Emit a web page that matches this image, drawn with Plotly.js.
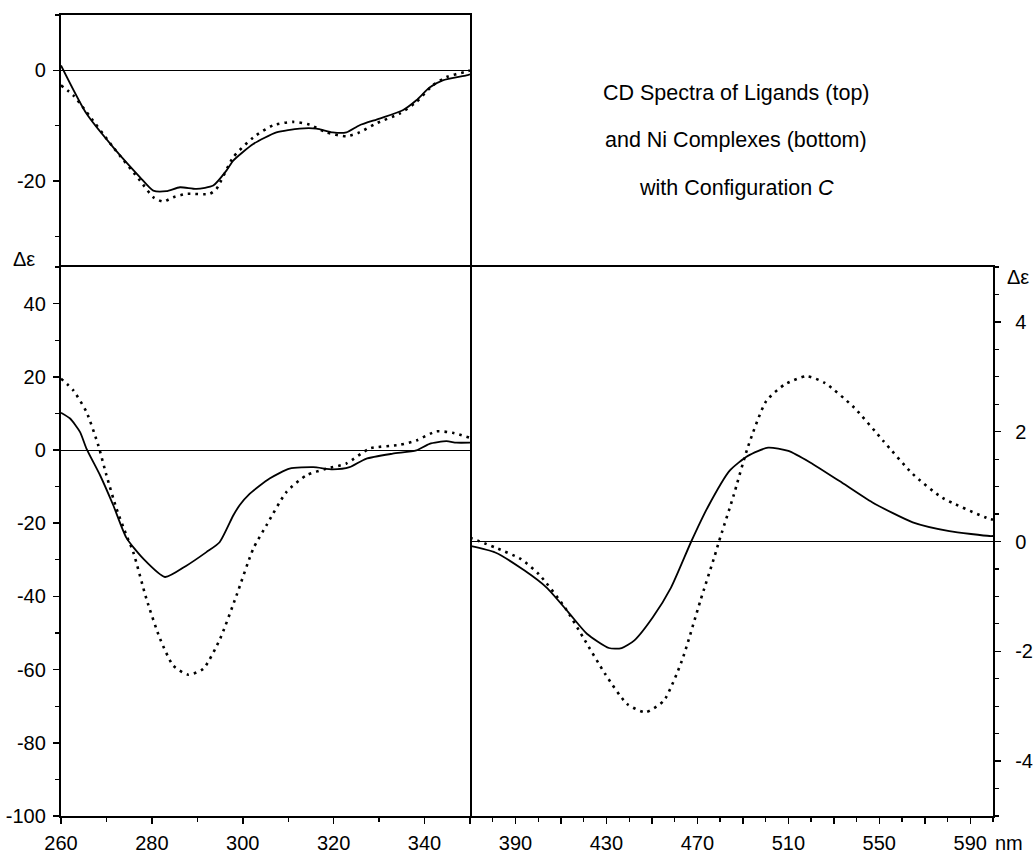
<!DOCTYPE html>
<html>
<head>
<meta charset="utf-8">
<script src="https://cdn.plot.ly/plotly-3.0.1.min.js"></script>
<style>
  html, body { margin: 0; padding: 0; background: #fff; }
  #chart { width: 1034px; height: 856px; }
</style>
</head>
<body>
<div id="chart"></div>
<script>
// ---- Ligands (top panel), wavelength nm vs delta-epsilon ----
const ligSolidX = [260, 265.6, 271.5, 277.4, 280.3, 283.2, 286.2, 289.8, 293.5, 296.4, 297.9, 302.3, 307.4, 312.5, 316.2, 319.8, 322.8, 325.7, 330.1, 335.2, 338.2, 341.1, 344, 349.2, 350];
const ligSolidY = [0.9, -7.8, -13.9, -19.3, -21.7, -21.8, -21.1, -21.4, -20.8, -18.1, -16.3, -13.3, -11.2, -10.5, -10.5, -11.2, -11.2, -9.9, -8.7, -7.2, -5.4, -3.1, -1.8, -0.9, -0.7];
const ligDotX = [260, 262.7, 265.6, 271.5, 277.4, 280.3, 282.5, 284.7, 287.6, 292.7, 294.2, 297.9, 302.3, 306.7, 311.1, 314.7, 318.4, 322.8, 325.7, 329.3, 334.5, 338.2, 341.8, 344.8, 348.8, 350];
const ligDotY = [-2.7, -4.5, -7.5, -13.9, -19.9, -22.9, -23.7, -22.9, -22.3, -22.3, -21.4, -15.7, -12.1, -9.9, -9.3, -9.8, -11.2, -11.9, -11.2, -9.6, -7.8, -5.7, -2.7, -1.2, -0.3, 0];

// ---- Ni complexes, UV region (bottom-left) ----
const niUvSolidX = [260, 262, 264.2, 265.6, 268.6, 271.5, 274.4, 278.1, 282.9, 287.6, 292, 294.9, 297.9, 299.3, 301.5, 305.9, 310.3, 315.5, 319.8, 323.5, 327.1, 333, 338.2, 341.1, 344.8, 347, 350];
const niUvSolidY = [10.2, 8.6, 4.9, 0.4, -6.9, -15.1, -24, -29.7, -34.7, -31.6, -27.9, -25.2, -17.9, -15.1, -12, -7.8, -5.1, -4.7, -5.3, -4.7, -2.4, -1, -0.1, 1.7, 2.4, 2, 2];
const niUvDotX = [260, 262.7, 265.6, 268.2, 270, 272.2, 274.4, 275.9, 278.8, 281.8, 284.7, 288, 291.3, 295, 298.6, 302.3, 305.2, 309.6, 314, 318.4, 322.8, 327.9, 334.5, 338.2, 342.6, 346.2, 350];
const niUvDotY = [19.5, 16.3, 10.4, 1.3, -6.9, -16, -23.3, -27.9, -40.7, -51.6, -58.9, -61.4, -59.8, -51.6, -39.8, -27, -20.6, -11.5, -6.9, -5.1, -3.7, 0.4, 1.4, 2.6, 5.1, 4.7, 3.3];

// ---- Ni complexes, visible region (bottom-right) ----
const niVisSolidX = [370, 381.1, 394, 403.7, 413.3, 421.4, 431.1, 436.7, 442.3, 450.4, 458.4, 467.3, 474.5, 484.2, 492.2, 501.1, 510, 519.6, 532.5, 547, 564.7, 580.8, 598.5, 600];
const niVisSolidY = [-0.08, -0.2, -0.53, -0.84, -1.29, -1.68, -1.94, -1.94, -1.8, -1.38, -0.84, 0, 0.62, 1.29, 1.56, 1.71, 1.65, 1.44, 1.1, 0.71, 0.35, 0.19, 0.1, 0.1];
const niVisDotX = [370, 381.1, 392.4, 400.4, 411.7, 419.8, 429.4, 439.1, 447.1, 455.2, 463.2, 471.3, 477.7, 479.5, 485.8, 492.2, 500.3, 508.4, 518, 526, 538.9, 551.8, 564.7, 577.6, 598.5, 600];
const niVisDotY = [0.07, -0.11, -0.32, -0.6, -1.2, -1.75, -2.41, -2.96, -3.11, -2.9, -2.17, -1.08, -0.25, 0, 0.82, 1.72, 2.56, 2.86, 3.01, 2.89, 2.44, 1.83, 1.23, 0.8, 0.41, 0.4];

// ---- Tick labels ----
const uvTicks = [260, 280, 300, 320, 340];
const visTicks = [370, 390, 410, 430, 450, 470, 490, 510, 530, 550, 570, 590];
const visTickText = ['', '390', '', '430', '', '470', '', '510', '', '550', '', '590'];
const uvYTicks = [-100, -80, -60, -40, -20, 0, 20, 40];
const ligYTicks = [-20, 0];
const visYTicks = [-4, -2, 0, 2, 4];

const titleLines = ['CD Spectra of Ligands (top)', 'and Ni Complexes (bottom)', 'with Configuration <i>C</i>'];

const FONT = '"Liberation Sans", Arial, Helvetica, sans-serif';
const solid = { color: 'black', width: 1.8, shape: 'spline', smoothing: 0.6 };
const dotted = { color: 'black', width: 2.6, dash: '2.6px,5px', shape: 'spline', smoothing: 0.6 };

const traces = [
  { x: ligSolidX, y: ligSolidY, xaxis: 'x2', yaxis: 'y2', mode: 'lines', line: solid },
  { x: ligDotX, y: ligDotY, xaxis: 'x2', yaxis: 'y2', mode: 'lines', line: dotted },
  { x: niUvSolidX, y: niUvSolidY, xaxis: 'x', yaxis: 'y', mode: 'lines', line: solid },
  { x: niUvDotX, y: niUvDotY, xaxis: 'x', yaxis: 'y', mode: 'lines', line: dotted },
  { x: niVisSolidX, y: niVisSolidY, xaxis: 'x3', yaxis: 'y3', mode: 'lines', line: solid },
  { x: niVisDotX, y: niVisDotY, xaxis: 'x3', yaxis: 'y3', mode: 'lines', line: dotted }
];

const W = 1034, H = 856;
const px = v => v / W;
const py = v => 1 - v / H;

const leftDom = [px(61), px(470)];
const rightDom = [px(470), px(993)];
const botDom = [py(816), py(267)];
const topDom = [py(267), py(15)];

const TICKSIZE = 20;
const baseAxis = {
  showline: true, linecolor: 'black', linewidth: 2.2, mirror: true,
  showgrid: false, zeroline: false,
  ticks: 'outside', tickcolor: 'black', tickwidth: 1.5, ticklen: 6,
  tickfont: { family: FONT, size: TICKSIZE, color: 'black' }
};

function minorTicks(tick0, dtick) {
  return { tickmode: 'linear', tick0: tick0, dtick: dtick, ticks: 'outside', ticklen: 4, tickwidth: 1.3, tickcolor: 'black', showgrid: false };
}

const layout = {
  width: W, height: H,
  margin: { l: 0, r: 0, t: 0, b: 0 },
  paper_bgcolor: 'white', plot_bgcolor: 'white',
  showlegend: false,
  font: { family: FONT, color: 'black' },
  xaxis: Object.assign({}, baseAxis, {
    domain: leftDom, range: [260, 350], anchor: 'y', mirror: true,
    tickmode: 'array', tickvals: uvTicks, ticktext: uvTicks.map(String),
    minor: minorTicks(260, 10), ticklabelstandoff: 2
  }),
  yaxis: Object.assign({}, baseAxis, {
    domain: botDom, range: [-100, 50], anchor: 'x', mirror: true,
    tickmode: 'array', tickvals: uvYTicks, ticktext: uvYTicks.map(String),
    minor: minorTicks(0, 10), ticklabelstandoff: 3,
    zeroline: true, zerolinecolor: 'black', zerolinewidth: 1
  }),
  xaxis2: Object.assign({}, baseAxis, {
    domain: leftDom, range: [260, 350], anchor: 'y2', side: 'top', mirror: false,
    ticks: '', showticklabels: false
  }),
  yaxis2: Object.assign({}, baseAxis, {
    domain: topDom, range: [-35.5, 10], anchor: 'x2', mirror: true,
    tickmode: 'array', tickvals: ligYTicks, ticktext: ligYTicks.map(String),
    minor: minorTicks(0, 10), ticklabelstandoff: 3,
    zeroline: true, zerolinecolor: 'black', zerolinewidth: 1
  }),
  xaxis3: Object.assign({}, baseAxis, {
    domain: rightDom, range: [370, 600], anchor: 'y3', mirror: true,
    tickmode: 'array', tickvals: visTicks, ticktext: visTickText,
    minor: minorTicks(370, 10), ticklabelstandoff: 2
  }),
  yaxis3: Object.assign({}, baseAxis, {
    domain: botDom, range: [-5, 5], anchor: 'x3', side: 'right', mirror: false,
    tickmode: 'array', tickvals: visYTicks, ticktext: visYTicks.map(String),
    minor: minorTicks(0, 0.5), ticklabelstandoff: 10,
    zeroline: true, zerolinecolor: 'black', zerolinewidth: 1
  }),
  annotations: [
    { xref: 'paper', yref: 'paper', x: px(24), y: py(259), text: 'Δε', showarrow: false, xanchor: 'center', yanchor: 'middle', font: { family: FONT, size: 20, color: 'black' } },
    { xref: 'paper', yref: 'paper', x: px(1018), y: py(277), text: 'Δε', showarrow: false, xanchor: 'center', yanchor: 'middle', font: { family: FONT, size: 20, color: 'black' } },
    { xref: 'paper', yref: 'paper', x: px(1009), y: py(843), text: 'nm', showarrow: false, xanchor: 'center', yanchor: 'middle', font: { family: FONT, size: 20, color: 'black' } },
    { xref: 'paper', yref: 'paper', x: px(736), y: py(93), text: titleLines[0], showarrow: false, xanchor: 'center', yanchor: 'middle', font: { family: FONT, size: 21.5, color: 'black' } },
    { xref: 'paper', yref: 'paper', x: px(736), y: py(140), text: titleLines[1], showarrow: false, xanchor: 'center', yanchor: 'middle', font: { family: FONT, size: 21.5, color: 'black' } },
    { xref: 'paper', yref: 'paper', x: px(736), y: py(188), text: titleLines[2], showarrow: false, xanchor: 'center', yanchor: 'middle', font: { family: FONT, size: 21.5, color: 'black' } }
  ]
};

Plotly.newPlot('chart', traces, layout, { staticPlot: true, displayModeBar: false });
</script>
</body>
</html>
